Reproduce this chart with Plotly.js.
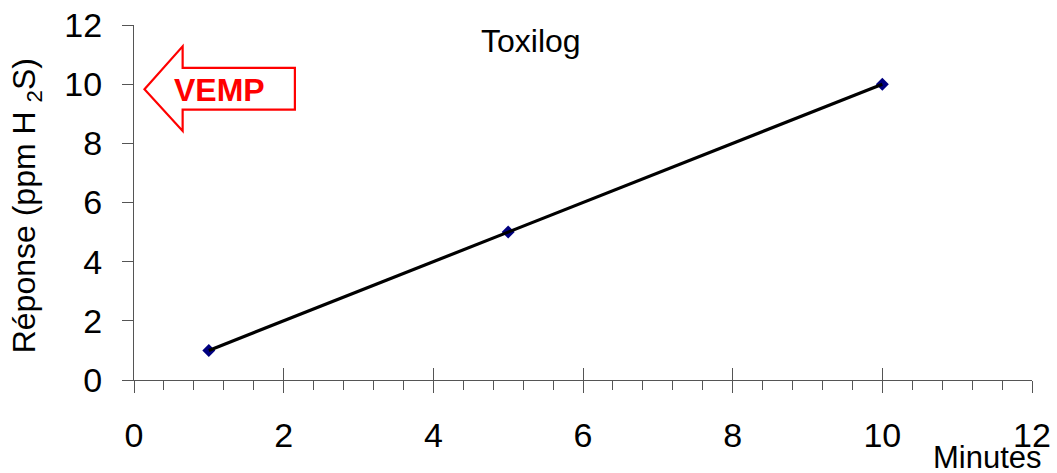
<!DOCTYPE html>
<html>
<head>
<meta charset="utf-8">
<script src="https://cdn.plot.ly/plotly-3.0.1.min.js"></script>
<style>
  html, body { margin: 0; padding: 0; background: #fff; }
  #chart { width: 1057px; height: 473px; }
</style>
</head>
<body>
<div id="chart"></div>
<script>
// Toxilog response versus time
const minutes = [1, 5, 10];
const response = [1, 5, 10];
const xTicks = [0, 2, 4, 6, 8, 10, 12];
const yTicks = [0, 2, 4, 6, 8, 10, 12];

const FONT = 'Liberation Sans, Arial, sans-serif';
const AXIS_COL = '#555555';

const traces = [
  {
    x: minutes, y: response, xaxis: 'x', yaxis: 'y',
    mode: 'markers', type: 'scatter',
    marker: { symbol: 'diamond', size: 10, color: '#000080' },
    hoverinfo: 'skip', showlegend: false
  },
  {
    x: minutes, y: response, xaxis: 'x2', yaxis: 'y',
    mode: 'lines', type: 'scatter',
    line: { color: '#000000', width: 3.2 },
    hoverinfo: 'skip', showlegend: false
  }
];

// arrow outline (axis units) pointing left toward the y axis
const arrowPath = 'M 0.14 9.83 L 0.65 11.28 L 0.65 10.55 L 2.15 10.55 L 2.15 9.14 L 0.65 9.14 L 0.65 8.42 Z';

const layout = {
  width: 1057, height: 473,
  margin: { l: 134, r: 25, t: 25, b: 93 },
  paper_bgcolor: '#ffffff', plot_bgcolor: '#ffffff',
  font: { family: FONT, color: '#000000', size: 30 },
  xaxis: {
    range: [0, 12], tickvals: xTicks, ticktext: xTicks.map(String),
    ticks: 'outside', ticklen: 12, tickwidth: 1, tickcolor: AXIS_COL,
    showline: true, linecolor: AXIS_COL, linewidth: 1,
    showgrid: false, zeroline: false,
    tickfont: { size: 34, family: FONT, color: '#000' },
    ticklabelstandoff: 13,
    minor: { dtick: 0.4, ticks: 'outside', ticklen: 9, tickwidth: 1, tickcolor: AXIS_COL, showgrid: false },
    fixedrange: true
  },
  xaxis2: {
    overlaying: 'x', anchor: 'y', side: 'bottom',
    range: [0, 12], tickvals: xTicks,
    ticks: 'inside', ticklen: 12, tickwidth: 1, tickcolor: AXIS_COL,
    showticklabels: false, showline: false, showgrid: false, zeroline: false,
    fixedrange: true
  },
  yaxis: {
    range: [0, 12], tickvals: yTicks, ticktext: yTicks.map(String),
    ticks: 'outside', ticklen: 11, tickwidth: 1, tickcolor: AXIS_COL,
    showline: true, linecolor: AXIS_COL, linewidth: 1,
    showgrid: false, zeroline: false,
    tickfont: { size: 34, family: FONT, color: '#000' },
    ticklabelstandoff: 13,
    fixedrange: true
  },
  shapes: [
    {
      type: 'path', xref: 'x', yref: 'y', path: arrowPath,
      line: { color: '#ff0000', width: 2.2 }, fillcolor: '#ffffff', layer: 'above'
    }
  ],
  annotations: [
    {
      text: 'Toxilog', xref: 'x', yref: 'paper', x: 5.3, y: 0.955,
      xanchor: 'center', yanchor: 'middle', showarrow: false,
      font: { size: 32, family: FONT, color: '#000' }
    },
    {
      text: '<b>VEMP</b>', xref: 'x', yref: 'y', x: 1.14, y: 9.8,
      xanchor: 'center', yanchor: 'middle', showarrow: false,
      font: { size: 32, family: FONT, color: '#ff0000' }
    },
    {
      text: 'Minutes', xref: 'x', yref: 'paper', x: 11.4, y: -0.217,
      xanchor: 'center', yanchor: 'middle', showarrow: false,
      font: { size: 31, family: FONT, color: '#000' }
    },
    {
      text: 'Réponse (ppm H <sub>2</sub>S)', xref: 'paper', yref: 'paper',
      x: -0.12, y: 0.49, textangle: -90,
      xanchor: 'center', yanchor: 'middle', showarrow: false,
      font: { size: 32, family: FONT, color: '#000' }
    }
  ]
};

Plotly.newPlot('chart', traces, layout, { staticPlot: true, displayModeBar: false });
</script>
</body>
</html>
